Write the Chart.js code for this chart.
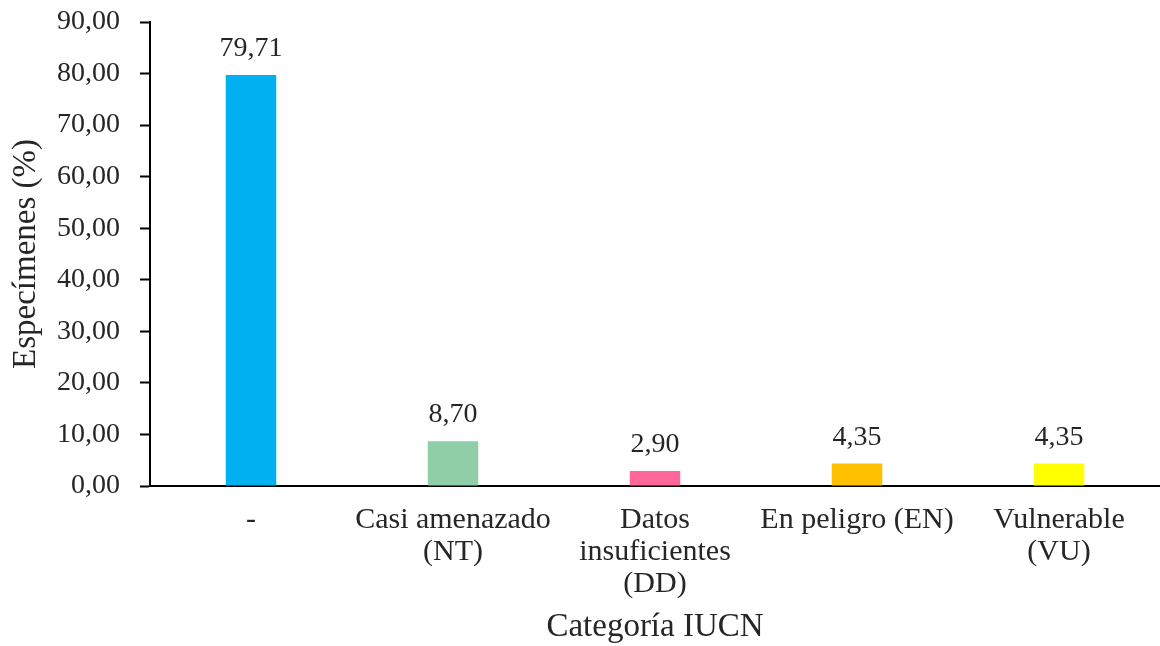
<!DOCTYPE html>
<html>
  <head>
    <title>Categoría IUCN</title>
    <script src="https://cdn.jsdelivr.net/npm/chart.js"></script>
    <style>
      body {
        margin: 0;
        background-color: #ffffff;
      }
      .chart-container {
        width: 1160px;
        height: 646px;
      }
    </style>
  </head>
  <body>
    <div class="chart-container">
      <canvas id="iucnChart"></canvas>
    </div>

    <script>
      // Data
      const categories = [
        "-",
        ["Casi amenazado", "(NT)"],
        ["Datos", "insuficientes", "(DD)"],
        "En peligro (EN)",
        ["Vulnerable", "(VU)"],
      ];
      const percentages = [79.71, 8.7, 2.9, 4.35, 4.35];
      const barColors = ["#00B0F0", "#8FCEA6", "#FF6699", "#FFC000", "#FFFF00"];
      const yTicks = [0, 10, 20, 30, 40, 50, 60, 70, 80, 90];

      const textColor = "#262626";
      const serif = "'Liberation Serif', 'Times New Roman', serif";

      // comma decimal, as in the original
      const fmt = (v) => v.toFixed(2).replace(".", ",");

      // Draw value labels above each bar
      const valueLabels = {
        id: "valueLabels",
        afterDatasetsDraw(chart) {
          const ctx = chart.ctx;
          const meta = chart.getDatasetMeta(0);
          ctx.save();
          ctx.font = "28px " + serif;
          ctx.fillStyle = textColor;
          ctx.textAlign = "center";
          ctx.textBaseline = "alphabetic";
          meta.data.forEach((bar, i) => {
            ctx.fillText(fmt(percentages[i]), bar.x, bar.y - 19);
          });
          ctx.restore();
        },
      };

      new Chart(document.getElementById("iucnChart"), {
        type: "bar",
        data: {
          labels: categories,
          datasets: [
            {
              label: "Especímenes (%)",
              data: percentages,
              backgroundColor: barColors,
              barPercentage: 0.25,
              categoryPercentage: 1,
            },
          ],
        },
        options: {
          responsive: true,
          maintainAspectRatio: false,
          animation: false,
          layout: { padding: { top: 22, right: 0, bottom: 2, left: 0 } },
          plugins: {
            legend: { display: false },
            tooltip: { enabled: false },
          },
          scales: {
            x: {
              grid: { display: true, drawOnChartArea: false, drawTicks: false },
              border: { display: true, color: "#000000", width: 2 },
              ticks: {
                color: textColor,
                font: { family: serif, size: 30, lineHeight: 1.07 },
                padding: 18,
                maxRotation: 0,
                autoSkip: false,
              },
              title: {
                display: true,
                text: "Categoría IUCN",
                color: textColor,
                font: { family: serif, size: 33, lineHeight: 1.0 },
                padding: { top: 0, bottom: 0 },
              },
              afterFit: (scale) => {
                scale.height = 158;
                scale.paddingLeft = 0;
                scale.paddingRight = 0;
              },
            },
            y: {
              min: 0,
              max: 90,
              afterBuildTicks: (scale) => {
                scale.ticks = yTicks.map((v) => ({ value: v }));
              },
              grid: {
                display: true,
                drawOnChartArea: false,
                drawTicks: true,
                tickLength: 10,
                tickColor: "#000000",
                tickWidth: 2,
              },
              border: { display: true, color: "#000000", width: 2 },
              ticks: {
                color: textColor,
                font: { family: serif, size: 28 },
                padding: 20,
                callback: (v) => fmt(v),
              },
              title: {
                display: true,
                text: "Especímenes (%)",
                color: textColor,
                font: { family: serif, size: 33, lineHeight: 1.0 },
                padding: { top: 10, bottom: 0 },
              },
              afterFit: (scale) => {
                scale.width = 150;
                scale.paddingTop = 0;
                scale.paddingBottom = 0;
              },
            },
          },
        },
        plugins: [valueLabels],
      });
    </script>
  </body>
</html>
